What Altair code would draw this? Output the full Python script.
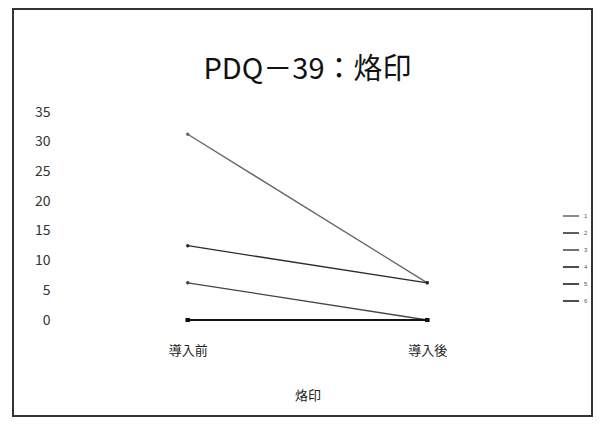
import altair as alt
import pandas as pd

series = ["1", "2", "3", "4", "5", "6"]
stages = ["導入前", "導入後"]
before = [31.25, 12.5, 6.25, 0, 0, 0]
after = [6.25, 6.25, 0, 0, 0, 0]
colors = ["#666666", "#2a2a2a", "#444444", "#111111", "#111111", "#111111"]
square_series = ["4", "5", "6"]

rows = []
for s, b, a in zip(series, before, after):
    rows.append({"series": s, "stage": stages[0], "value": b})
    rows.append({"series": s, "stage": stages[1], "value": a})
df = pd.DataFrame(rows)

W, H = 479, 208
PAD = {"left": 60, "top": 104, "right": 46, "bottom": 97}
FONT = "Noto Sans CJK JP"

x = alt.X("stage:N", sort=stages, scale=alt.Scale(type="point", padding=0.5),
          axis=alt.Axis(title="烙印", labelAngle=0, domain=False, ticks=False,
                        labelPadding=24, titlePadding=32, labelFontSize=13,
                        titleFontSize=13, labelColor="#222", titleColor="#222",
                        labelFont=FONT, titleFont=FONT, titleFontWeight="normal"))
y = alt.Y("value:Q", scale=alt.Scale(domain=[0, 35], nice=False),
          axis=alt.Axis(title=None, values=[0, 5, 10, 15, 20, 25, 30, 35],
                        domain=False, ticks=False, grid=False, labelPadding=18,
                        labelFontSize=14, labelColor="#333", labelFont=FONT))
cscale = alt.Scale(domain=series, range=colors)
color = alt.Color("series:N", scale=cscale,
                  legend=alt.Legend(title=None, orient="none", legendX=494, legendY=95,
                                    symbolType="stroke", symbolSize=260,
                                    symbolStrokeWidth=1.5, labelFontSize=6,
                                    rowPadding=5, labelColor="#555"))

base = alt.Chart(df)
lines = base.mark_line(strokeWidth=1.3).encode(x=x, y=y, color=color, detail="series:N")
circles = base.transform_filter(
    ~alt.FieldOneOfPredicate(field="series", oneOf=square_series)
).mark_circle(size=12, opacity=1).encode(
    x=x, y=y, color=alt.Color("series:N", scale=cscale, legend=None))
squares = base.transform_filter(
    alt.FieldOneOfPredicate(field="series", oneOf=square_series)
).mark_square(size=16, opacity=1).encode(
    x=x, y=y, color=alt.Color("series:N", scale=cscale, legend=None))
frame = alt.Chart(pd.DataFrame({"a": [0]})).mark_rect(
    fill=None, stroke="#333333", strokeWidth=2
).encode(x=alt.value(-55), x2=alt.value(W + 45), y=alt.value(-103), y2=alt.value(H + 96))

chart = alt.layer(frame, lines, circles, squares).properties(
    width=W, height=H,
    background="white",
    title=alt.Title("PDQ－39：烙印", fontSize=29, font=FONT, fontWeight="normal",
                    color="#111", offset=0, dy=77, frame="group"),
    autosize=alt.AutoSizeParams(type="none"),
    padding=PAD,
).configure_view(strokeWidth=0, stroke="transparent")

chart.save("out.html", embed_options={"renderer": "svg", "actions": False})
